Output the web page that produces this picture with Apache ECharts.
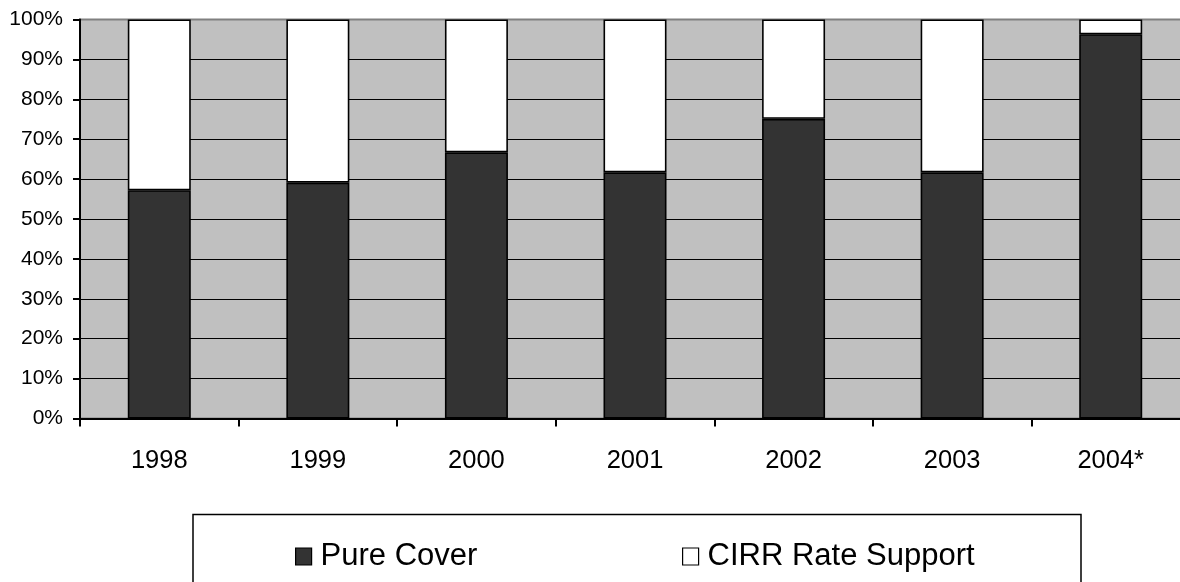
<!DOCTYPE html>
<html>
<head>
<meta charset="utf-8">
<script src="https://cdn.jsdelivr.net/npm/echarts@6/dist/echarts.min.js"></script>
<style>
html,body{margin:0;padding:0;background:#fff;overflow:hidden;width:1180px;height:582px;}
#chart{width:1200px;height:582px;}
</style>
</head>
<body>
<div id="chart"></div>
<script>
const categories = ['1998', '1999', '2000', '2001', '2002', '2003', '2004*'];
const pureCover = [57.2, 59.1, 66.7, 61.7, 75.1, 61.7, 96.3];
const cirrRateSupport = [42.8, 40.9, 33.3, 38.3, 24.9, 38.3, 3.7];
const yTicks = [0, 10, 20, 30, 40, 50, 60, 70, 80, 90, 100];

const FONT = "'Liberation Sans', Arial, sans-serif";
const chart = echarts.init(document.getElementById('chart'), null, {renderer: 'canvas'});

const splitColors = yTicks.map((v, i) => i === yTicks.length - 1 ? '#808080' : '#000000');

const legendCommon = {
  top: 541, padding: 0,
  itemWidth: 16, itemHeight: 17,
  icon: 'rect',
  textStyle: {color: '#000', fontSize: 31, fontFamily: FONT, padding: [0, 0, 0, 4]},
  itemStyle: {borderColor: '#000', borderWidth: 1.2}
};

chart.setOption({
  animation: false,
  backgroundColor: '#ffffff',
  textStyle: {fontFamily: FONT},
  grid: {
    left: 80, top: 19.5, width: 1110, height: 399,
    show: true, backgroundColor: '#c0c0c0', borderColor: '#808080', borderWidth: 2
  },
  xAxis: {
    type: 'category',
    data: categories,
    boundaryGap: true,
    axisLine: {lineStyle: {color: '#000', width: 2}},
    axisTick: {show: true, length: 8, alignWithLabel: false, lineStyle: {color: '#000', width: 2}},
    axisLabel: {color: '#000', fontSize: 25.5, fontFamily: FONT, margin: 29},
    splitLine: {show: false}
  },
  yAxis: {
    type: 'value',
    min: 0, max: 100, interval: 10,
    axisLine: {show: true, lineStyle: {color: '#000', width: 2}},
    axisTick: {show: true, length: 7, lineStyle: {color: '#000', width: 2}},
    axisLabel: {color: '#000', fontSize: 21, fontFamily: FONT, margin: 17, formatter: '{value}%'},
    splitLine: {show: true, lineStyle: {color: splitColors, width: 1.2}}
  },
  legend: [
    Object.assign({left: 295, data: ['Pure Cover']}, legendCommon),
    Object.assign({left: 682, data: ['CIRR Rate Support']}, legendCommon)
  ],
  graphic: [{
    type: 'rect',
    shape: {x: 193, y: 514.5, width: 888, height: 120},
    style: {fill: 'none', stroke: '#000', lineWidth: 1.5},
    silent: true
  }],
  series: [
    {
      name: 'Pure Cover', type: 'bar', stack: 'total', barWidth: 63,
      data: pureCover,
      itemStyle: {color: '#333333', borderColor: '#000', borderWidth: 1.6}
    },
    {
      name: 'CIRR Rate Support', type: 'bar', stack: 'total', barWidth: 63,
      data: cirrRateSupport,
      itemStyle: {color: '#ffffff', borderColor: '#000', borderWidth: 1.6}
    }
  ]
});
</script>
</body>
</html>
